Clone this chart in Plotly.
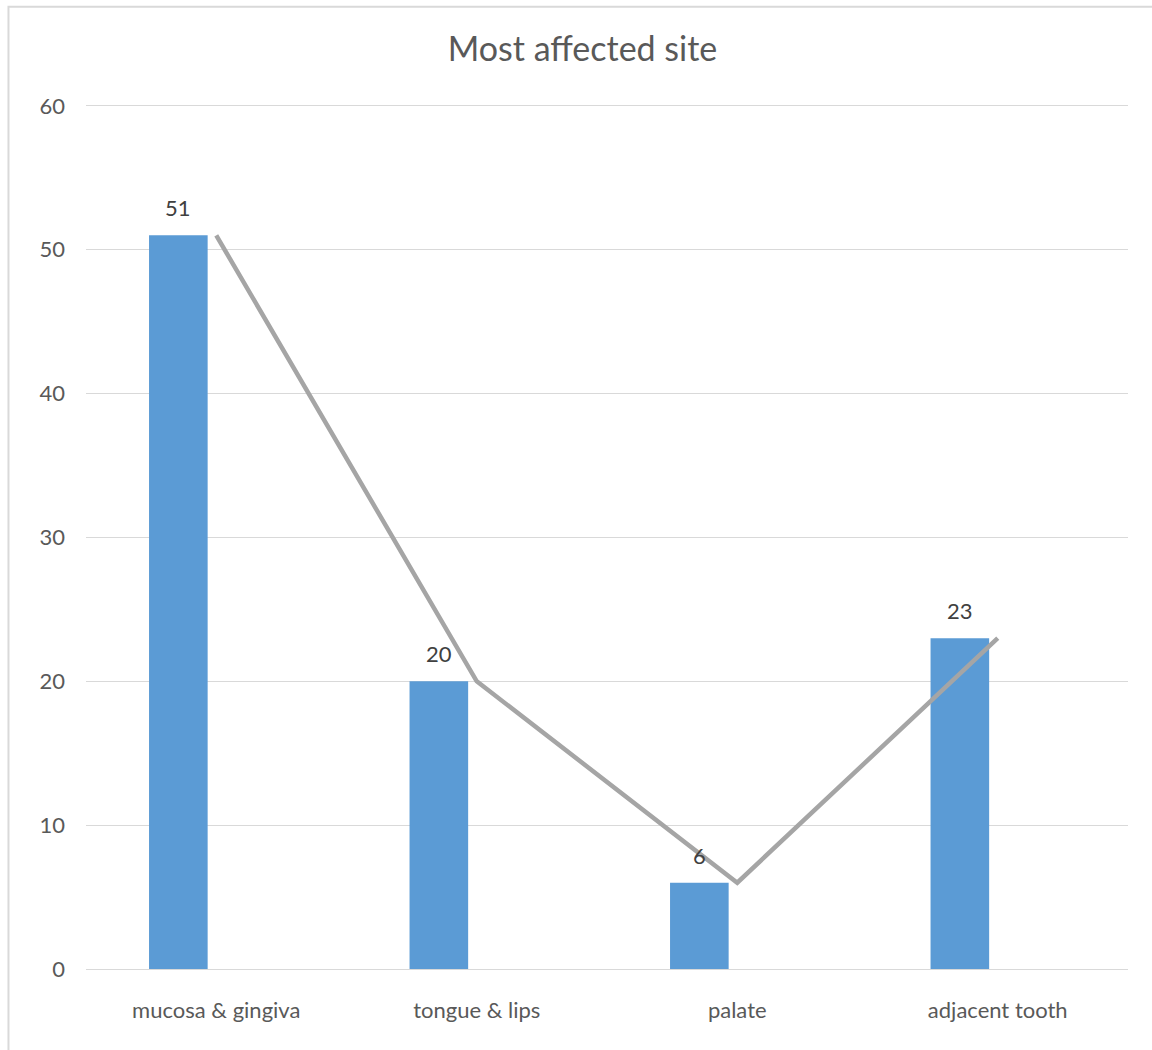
import plotly.graph_objects as go

# Chart data
sites = ["mucosa & gingiva", "tongue & lips", "palate", "adjacent tooth"]
counts = [51, 20, 6, 23]
y_ticks = [0, 10, 20, 30, 40, 50, 60]

FONT = "Lato"
BAR_COLOR = "#5B9BD5"
LINE_COLOR = "#A5A5A5"
GRID_COLOR = "#D9D9D9"

x_pos = list(range(len(sites)))
bar_offset = -0.258
bar_width = 0.225

fig = go.Figure()

fig.add_trace(go.Bar(
    x=x_pos,
    y=counts,
    offset=bar_offset,
    width=bar_width,
    marker=dict(color=BAR_COLOR, line=dict(width=0)),
    hoverinfo="skip",
    showlegend=False,
))

fig.add_trace(go.Scatter(
    x=x_pos,
    y=counts,
    mode="lines",
    line=dict(color=LINE_COLOR, width=4.5),
    hoverinfo="skip",
    showlegend=False,
))

# value labels above each bar
for xi, v in zip(x_pos, counts):
    fig.add_annotation(
        x=xi + bar_offset + bar_width / 2,
        y=v,
        text=str(v),
        showarrow=False,
        xanchor="center",
        yanchor="bottom",
        yshift=12,
        font=dict(family=FONT, size=22, color="#404040"),
    )

# outer chart frame
fig.add_shape(
    type="rect",
    xref="paper", yref="paper",
    x0=-0.0744, x1=1.3, y0=-0.3, y1=1.111,
    line=dict(color=GRID_COLOR, width=2),
    fillcolor="rgba(0,0,0,0)",
    layer="below",
)

fig.update_layout(
    width=1152,
    height=1050,
    margin=dict(l=86, r=24, t=102.6, b=80.5),
    paper_bgcolor="white",
    plot_bgcolor="white",
    title=dict(
        text="Most affected site",
        font=dict(family=FONT, size=34, color="#595959"),
        x=582.5 / 1152,
        xanchor="center",
        xref="container",
        y=1 - 49 / 1050,
        yanchor="middle",
        yref="container",
    ),
    xaxis=dict(
        range=[-0.5, 3.5],
        tickmode="array",
        tickvals=x_pos,
        ticktext=sites,
        showgrid=False,
        zeroline=False,
        showline=False,
        ticks="",
        ticklabelstandoff=26,
        tickfont=dict(family=FONT, size=22, color="#595959"),
        fixedrange=True,
    ),
    yaxis=dict(
        range=[0, 60.2],
        tickmode="array",
        tickvals=y_ticks,
        showgrid=True,
        gridcolor=GRID_COLOR,
        gridwidth=1,
        zeroline=True,
        zerolinecolor=GRID_COLOR,
        zerolinewidth=1,
        showline=False,
        ticks="",
        ticklabelstandoff=20,
        tickfont=dict(family=FONT, size=22, color="#595959"),
        fixedrange=True,
    ),
    font=dict(family=FONT),
)

fig.write_html("out.html")
